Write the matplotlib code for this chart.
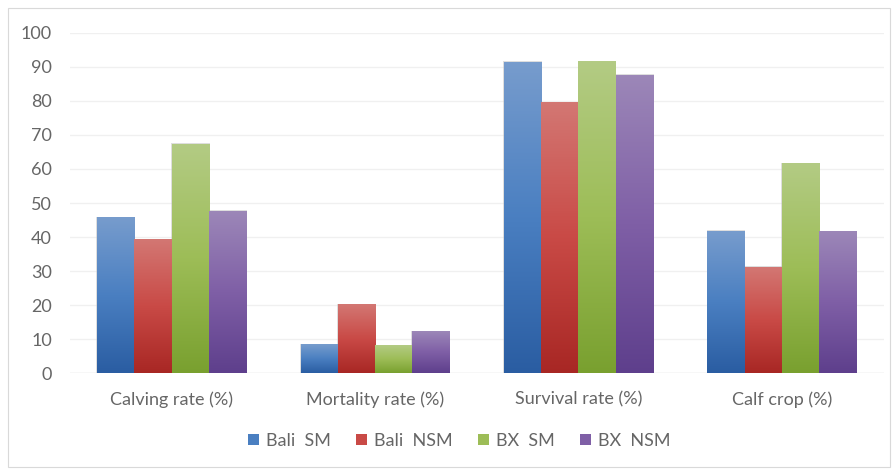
import matplotlib
matplotlib.use("Agg")
import matplotlib.pyplot as plt
import numpy as np
from matplotlib.colors import LinearSegmentedColormap
from matplotlib.patches import Rectangle, Patch

categories = ["Calving rate (%)", "Mortality rate (%)", "Survival rate (%)", "Calf crop (%)"]
series = ["Bali  SM", "Bali  NSM", "BX  SM", "BX  NSM"]
bali_sm = [45.7, 8.3, 91.4, 41.7]
bali_nsm = [39.2, 20.1, 79.5, 31.1]
bx_sm = [67.2, 8.0, 91.6, 61.5]
bx_nsm = [47.6, 12.1, 87.5, 41.5]
values = [bali_sm, bali_nsm, bx_sm, bx_nsm]

# (top, middle, bottom) colours of each gradient fill
shades = [
    ("#779ccd", "#4a7fc1", "#2a5da2"),
    ("#d37773", "#c94a46", "#a82724"),
    ("#b3cb84", "#9dbd57", "#79a02f"),
    ("#9c87b8", "#7f5fa6", "#5e3f8c"),
]

plt.rcParams["font.family"] = ["Lato", "DejaVu Sans"]
text_grey = "#666666"

fig = plt.figure(figsize=(8.92, 4.71), dpi=100)
ax = fig.add_axes([0.0785, 0.208, 0.912, 0.722])

x = np.arange(len(categories))
width = 0.183
grad = np.linspace(0, 1, 256).reshape(-1, 1)

for i, (name, vals) in enumerate(zip(series, values)):
    offset = (i - 1.5) * width
    bars = ax.bar(x + offset, vals, width, color=shades[i][1], zorder=2, linewidth=0)
    cmap = LinearSegmentedColormap.from_list(name, list(shades[i])[::-1])
    for b in bars:
        x0, w, h = b.get_x(), b.get_width(), b.get_height()
        # soft shadow
        ax.add_patch(Rectangle((x0 - 0.004, -0.3), w + 0.008, h + 0.6,
                               color="#bfbfbf", alpha=0.5, lw=0, zorder=1.5))
        ax.imshow(grad, cmap=cmap, origin="lower", aspect="auto",
                  extent=[x0, x0 + w, 0, h], zorder=3)

ax.set_xlim(-0.5, len(categories) - 0.5)
ax.set_ylim(0, 100)
ax.set_yticks(np.arange(0, 101, 10))
ax.set_xticks(x)
ax.set_xticklabels(categories)
ax.tick_params(axis="both", length=0, labelsize=13, colors=text_grey)
ax.tick_params(axis="y", pad=13)
ax.tick_params(axis="x", pad=13)
ax.grid(axis="y", color="#f0f0f0", lw=1, zorder=0)
ax.set_axisbelow(True)
for s in ax.spines.values():
    s.set_visible(False)
ax.axhline(0, color="#e6e6e6", lw=1, zorder=1)

handles = [Patch(facecolor=shades[i][1], edgecolor="none") for i in range(len(series))]
fig.legend(handles, series, loc="center", bbox_to_anchor=(0.515, 0.064), ncol=4,
           frameon=False, fontsize=13, labelcolor=text_grey, handlelength=0.6,
           handleheight=0.6, handletextpad=0.4, columnspacing=1.4)

fig.patches.append(Rectangle((0.009, 0.009), 0.989, 0.973, transform=fig.transFigure,
                             fill=False, edgecolor="#d9d9d9", lw=0.8))

fig.savefig("out.png", dpi=100)
